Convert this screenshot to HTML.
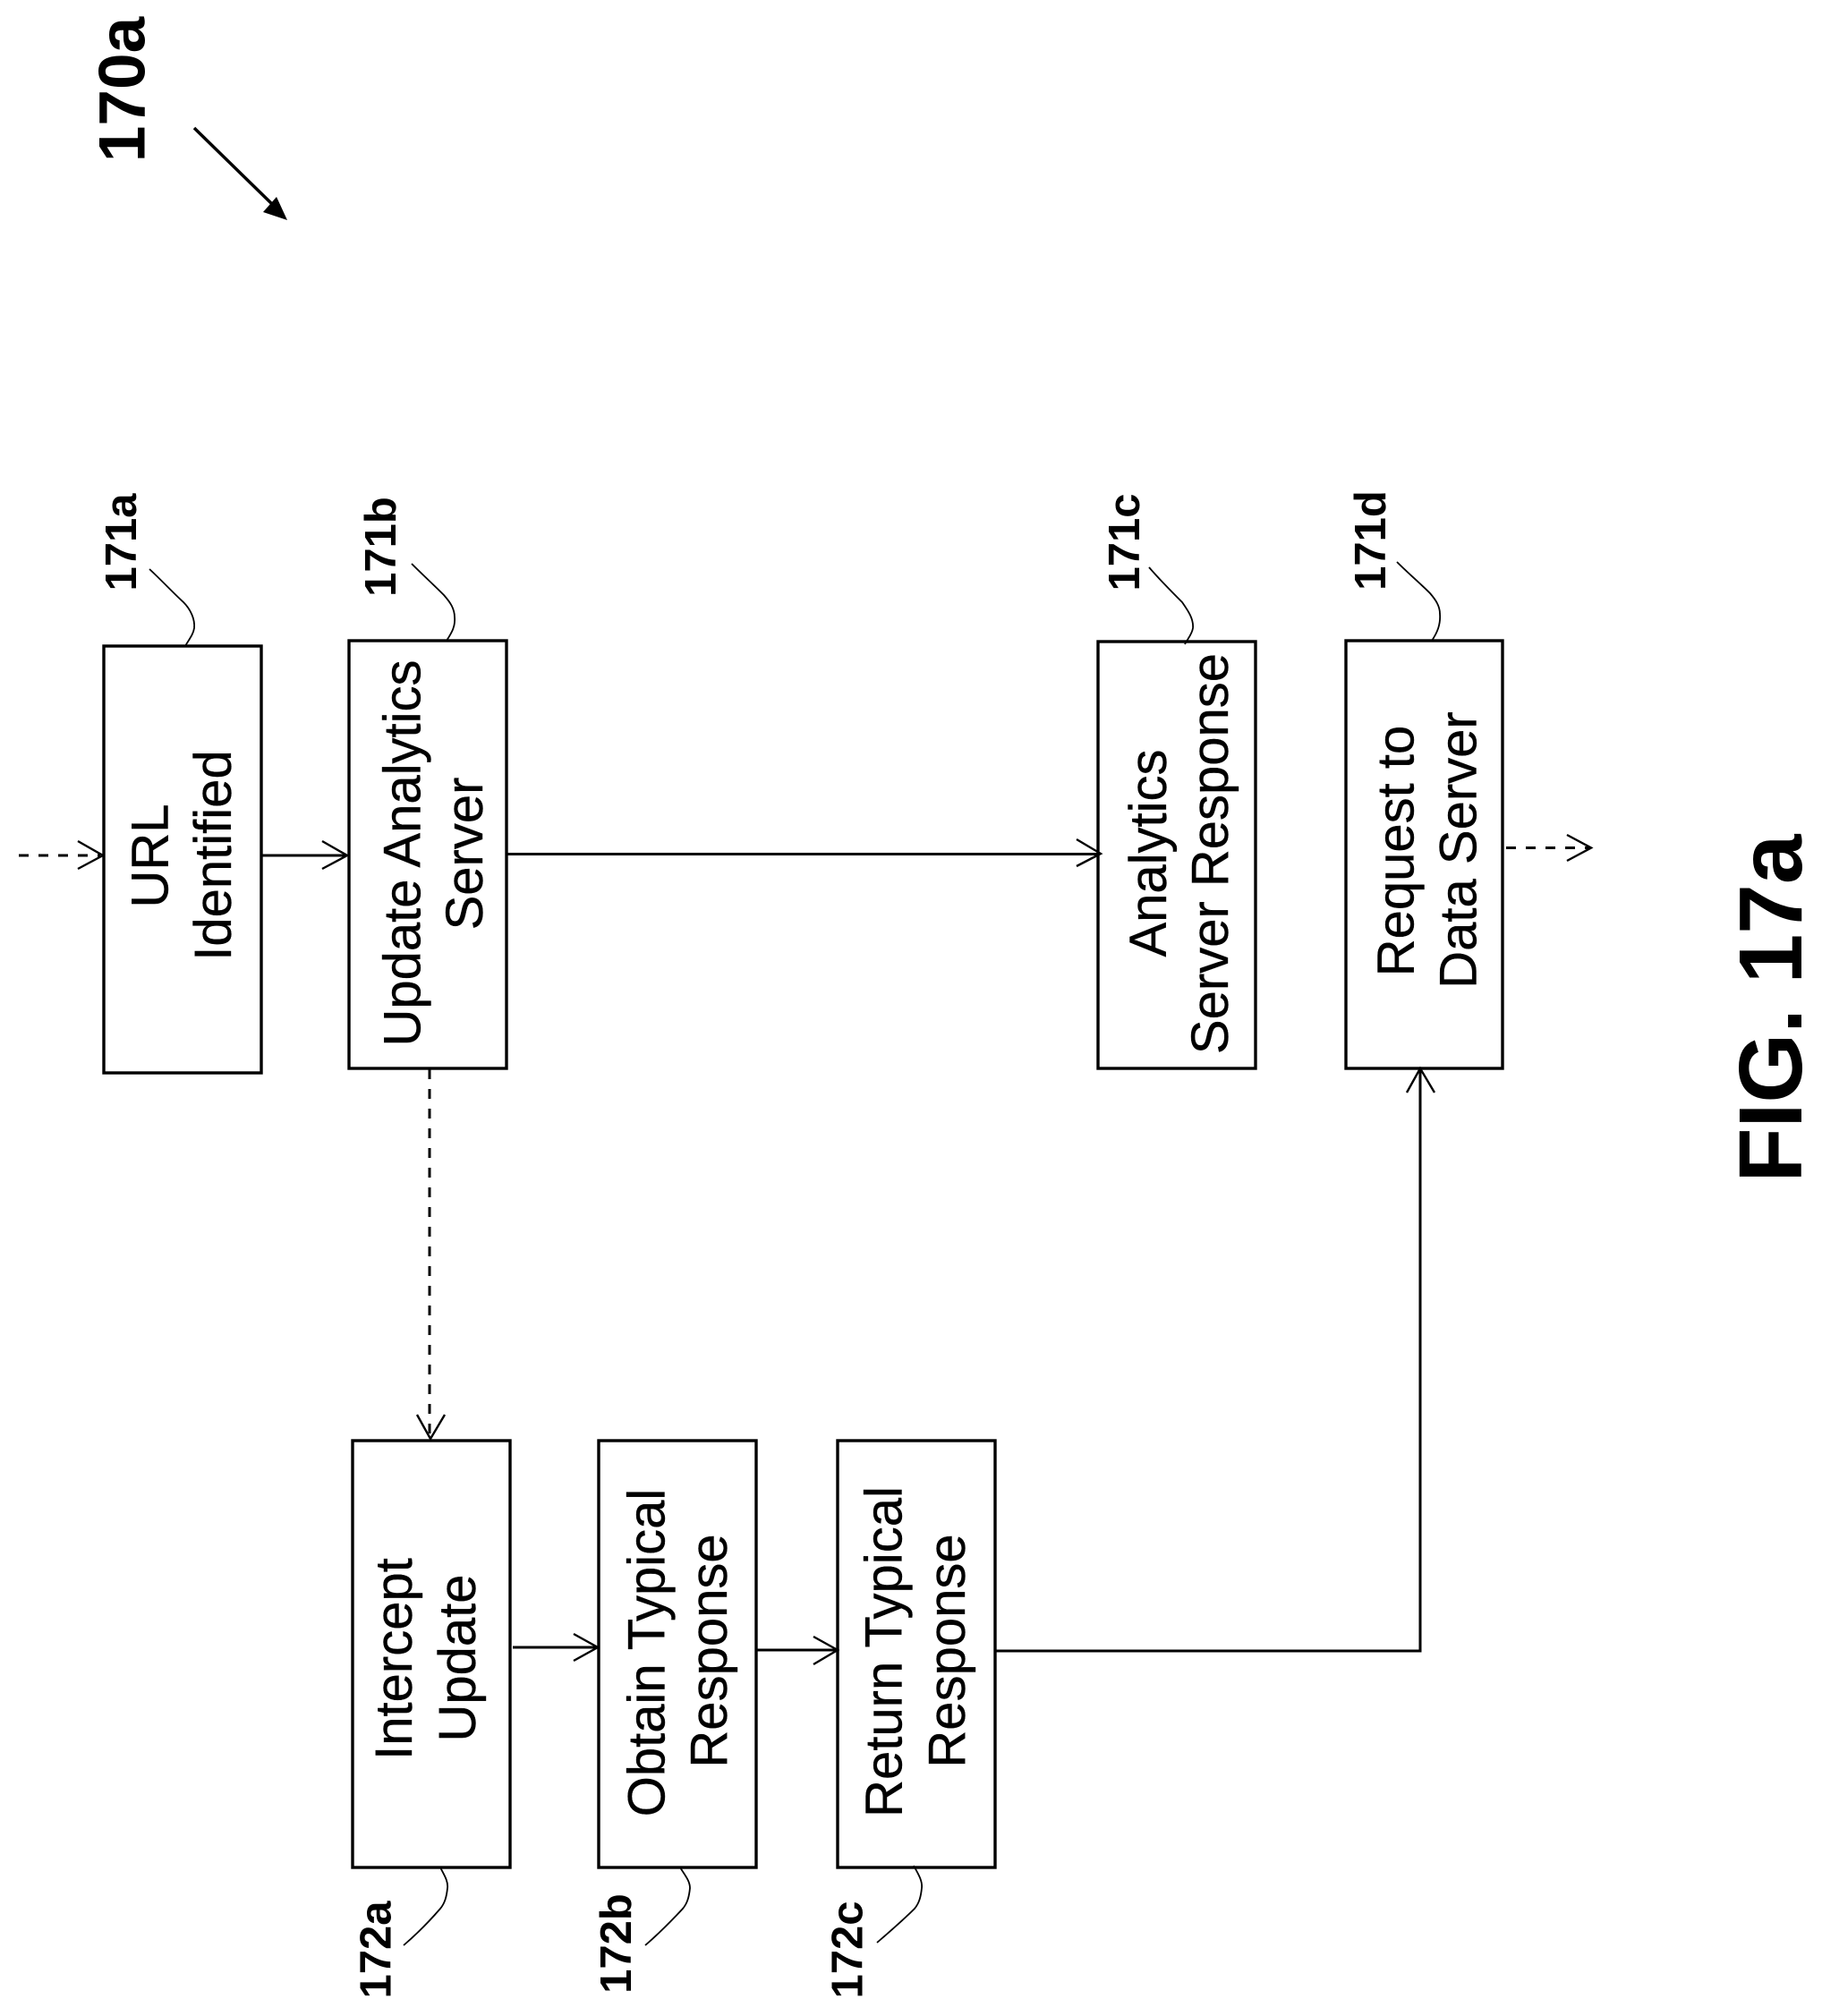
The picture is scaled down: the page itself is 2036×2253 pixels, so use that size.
<!DOCTYPE html>
<html><head><meta charset="utf-8"><style>
html,body{margin:0;padding:0;background:#fff;width:2036px;height:2253px;overflow:hidden}
svg{display:block}
text{font-family:"Liberation Sans",Arial,sans-serif;fill:#000;text-anchor:middle}
.t{font-size:58px;stroke:#000;stroke-width:.4}
.l{font-size:49px;font-weight:bold}
rect{fill:#fff;stroke:#000;stroke-width:3.4}
.c{fill:none;stroke:#000;stroke-width:3}
.d{fill:none;stroke:#000;stroke-width:3;stroke-dasharray:11 11}
.h{fill:none;stroke:#000;stroke-width:2.4}
.q{fill:none;stroke:#000;stroke-width:1.8}
</style></head><body>
<svg width="2036" height="2253" viewBox="0 0 2036 2253" xmlns="http://www.w3.org/2000/svg">
<rect x="0" y="0" width="2036" height="2253" style="stroke:none"/>
<rect x="116" y="722" width="176" height="477"/>
<rect x="390" y="716" width="176" height="478"/>
<rect x="1227" y="717" width="176" height="477"/>
<rect x="1504" y="716" width="175" height="478"/>
<rect x="394" y="1610" width="176" height="477"/>
<rect x="669" y="1610" width="176" height="477"/>
<rect x="936" y="1610" width="176" height="477"/>

<!-- connectors -->
<path class="d" d="M21 956H112"/><path class="h" d="M87 940L115 956L87 971"/>
<path class="c" d="M293 956H386"/><path class="h" d="M360 940L388 956L360 971"/>
<path class="c" d="M567 954.5H1228"/><path class="h" d="M1203 938L1230 954L1203 968"/>
<path class="d" d="M1683 947.5H1776"/><path class="h" d="M1751 933L1778 947.5L1751 962"/>
<path class="d" d="M480 1195V1606"/><path class="h" d="M466 1581L481 1608L497 1581"/>
<path class="c" d="M573 1841H666"/><path class="h" d="M641 1826L668 1841L641 1856"/>
<path class="c" d="M846 1844H934"/><path class="h" d="M909 1829L936 1844L909 1860"/>
<path class="c" d="M1112 1845H1587V1196"/><path class="h" d="M1572 1221L1587 1194L1603 1221"/>

<!-- reference arrow -->
<path d="M217 143L305 229" style="stroke:#000;stroke-width:3.5;fill:none"/>
<polygon points="321,246 294,237 309,220" fill="#000"/>

<!-- leaders -->
<path class="q" d="M167 636C180 648 194 663 205 673C213 681 218 692 217 702C216 709 211 715 207 722"/>
<path class="q" d="M460 630C472 642 485 654 496 665C503 673 508 680 508 690C509 701 504 708 499 716"/>
<path class="q" d="M1284 634C1296 648 1309 661 1321 673C1328 683 1334 692 1333 702C1332 709 1327 714 1324 720"/>
<path class="q" d="M1561 628C1574 641 1587 652 1598 663C1604 670 1609 677 1609 686C1610 698 1606 707 1600 716"/>
<path class="q" d="M492 2087C496 2095 501 2102 500 2110C499 2120 497 2127 492 2133C479 2148 465 2162 451 2174"/>
<path class="q" d="M760 2087C765 2095 771 2102 771 2110C770 2120 768 2127 763 2133C749 2148 735 2162 721 2174"/>
<path class="q" d="M1021 2085C1026 2094 1031 2102 1030 2110C1029 2120 1027 2127 1022 2133C1008 2147 994 2159 980 2171"/>

<!-- box text -->
<text class="t" transform="translate(187.5,956.5) rotate(-90)">URL</text>
<text class="t" transform="translate(258,956) rotate(-90)">Identified</text>
<text class="t" transform="translate(469.5,953.5) rotate(-90)">Update Analytics</text>
<text class="t" transform="translate(539,954) rotate(-90)">Server</text>
<text class="t" transform="translate(1303,953.5) rotate(-90)">Analytics</text>
<text class="t" transform="translate(1372,954) rotate(-90)">Server Response</text>
<text class="t" transform="translate(1579.5,951) rotate(-90)">Request to</text>
<text class="t" transform="translate(1649.5,950) rotate(-90)">Data Server</text>
<text class="t" transform="translate(460,1854) rotate(-90)">Intercept</text>
<text class="t" transform="translate(531,1853) rotate(-90)">Update</text>
<text class="t" transform="translate(742.5,1847) rotate(-90)">Obtain Typical</text>
<text class="t" transform="translate(812,1845) rotate(-90)">Response</text>
<text class="t" transform="translate(1007.5,1846) rotate(-90)">Return Typical</text>
<text class="t" transform="translate(1078,1845) rotate(-90)">Response</text>

<!-- reference labels -->
<text style="font-size:73px;font-weight:bold" transform="translate(161.5,100) rotate(-90)">170a</text>
<text class="l" transform="translate(152,606) rotate(-90)">171a</text>
<text class="l" transform="translate(442,611) rotate(-90)">171b</text>
<text class="l" transform="translate(1273,606) rotate(-90)">171c</text>
<text class="l" transform="translate(1548,604) rotate(-90)">171d</text>
<text class="l" transform="translate(436.5,2179) rotate(-90)">172a</text>
<text class="l" transform="translate(705,2172) rotate(-90)">172b</text>
<text class="l" transform="translate(963.5,2179) rotate(-90)">172c</text>
<text style="font-size:100px;font-weight:bold" transform="translate(2013,1127) rotate(-90)">FIG. 17a</text>
</svg>
</body></html>
